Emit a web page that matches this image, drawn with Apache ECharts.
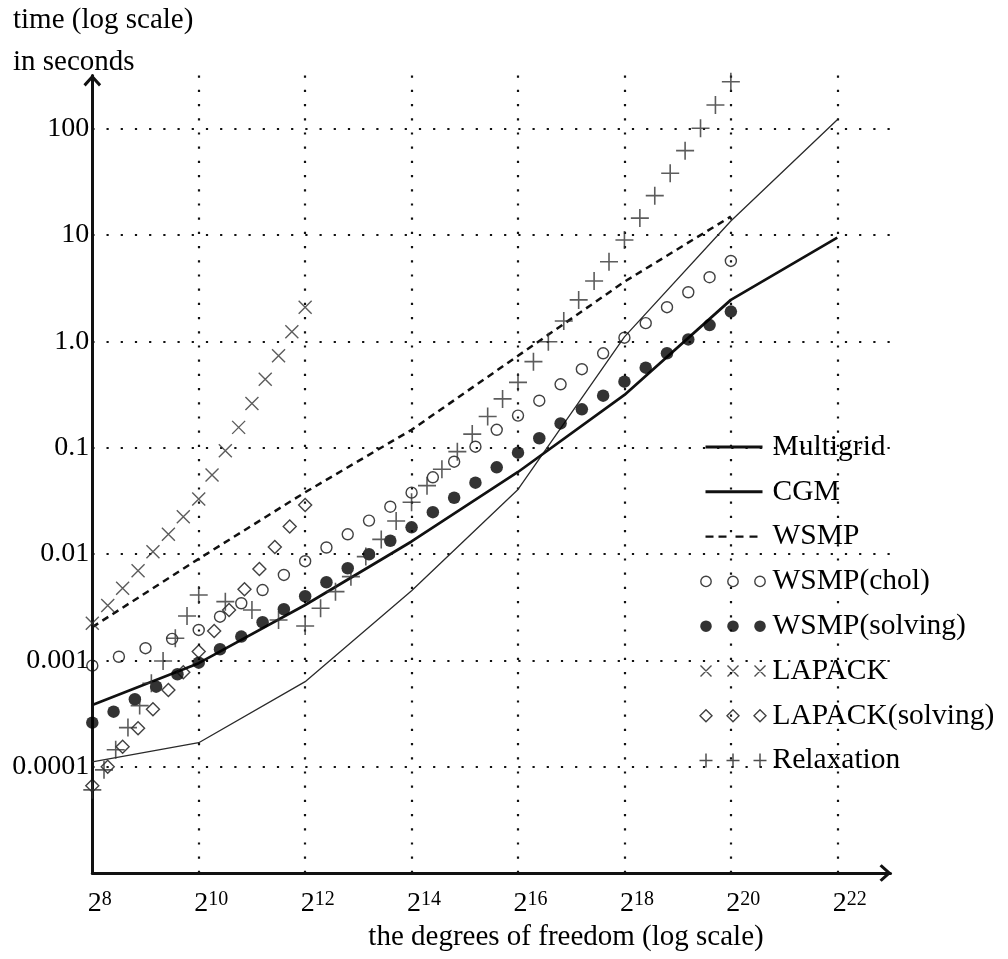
<!DOCTYPE html>
<html>
<head>
<meta charset="utf-8">
<script src="https://cdn.jsdelivr.net/npm/echarts@6/dist/echarts.min.js"></script>
<style>
  html, body { margin: 0; padding: 0; background: #ffffff; }
  #chart { width: 1008px; height: 959px; }
</style>
</head>
<body>
<div id="chart"></div>
<script>
// Degrees of freedom are stored as exponents of 2; times are in seconds.
const xTickExps = [8, 10, 12, 14, 16, 18, 20, 22];
const yTickExps = [-4, -3, -2, -1, 0, 1, 2];
const yTickLabels = ['0.0001', '0.001', '0.01', '0.1', '1.0', '10', '100'];

const multigridDof = [8, 10, 12, 14, 16, 18, 20, 22];
const multigridTime = [1.11e-4, 1.68e-4, 6.3e-4, 4.5e-3, 0.0404, 1.1, 13.5, 121];

const cgmDof = [8, 10, 12, 14, 16, 18, 20, 22];
const cgmTime = [3.8e-4, 9.4e-4, 3.31e-3, 1.31e-2, 0.059, 0.313, 2.45, 9.42];

const wsmpDof = [8, 10, 12, 14, 16, 18, 20];
const wsmpTime = [2.05e-3, 9.0e-3, 0.038, 0.147, 0.73, 3.63, 14.9];

const cholDof = [8, 8.5, 9, 9.5, 10, 10.4, 10.8, 11.2, 11.6, 12, 12.4, 12.8, 13.2, 13.6, 14,
  14.4, 14.8, 15.2, 15.6, 16, 16.4, 16.8, 17.2, 17.6, 18, 18.4, 18.8, 19.2, 19.6, 20];
const cholTime = [8.91e-4, 1.08e-3, 1.30e-3, 1.59e-3, 1.93e-3, 2.57e-3, 3.44e-3, 4.58e-3, 6.35e-3, 8.55e-3,
  1.15e-2, 1.53e-2, 2.06e-2, 2.78e-2, 3.77e-2, 5.26e-2, 7.37e-2, 0.102, 0.147, 0.200,
  0.276, 0.394, 0.546, 0.771, 1.08, 1.48, 2.09, 2.89, 4.0, 5.69];

const solvingDof = [8, 8.4, 8.8, 9.2, 9.6, 10, 10.4, 10.8, 11.2, 11.6, 12, 12.4, 12.8, 13.2, 13.6, 14,
  14.4, 14.8, 15.2, 15.6, 16, 16.4, 16.8, 17.2, 17.6, 18, 18.4, 18.8, 19.2, 19.6, 20];
const solvingTime = [2.59e-4, 3.29e-4, 4.30e-4, 5.65e-4, 7.39e-4, 9.50e-4, 1.27e-3, 1.67e-3, 2.28e-3, 3.02e-3,
  4.0e-3, 5.42e-3, 7.34e-3, 9.94e-3, 1.33e-2, 1.78e-2, 2.47e-2, 3.38e-2, 4.68e-2, 6.53e-2,
  8.97e-2, 0.1225, 0.169, 0.229, 0.308, 0.417, 0.565, 0.771, 1.04, 1.42, 1.90];

const lapackDof = [8, 8.29, 8.57, 8.86, 9.14, 9.43, 9.71, 10, 10.25, 10.5, 10.75, 11, 11.25, 11.5, 11.75, 12];
const lapackTime = [2.23e-3, 3.27e-3, 4.76e-3, 6.97e-3, 1.05e-2, 1.53e-2, 2.24e-2, 3.29e-2,
  5.53e-2, 9.35e-2, 0.155, 0.26, 0.44, 0.73, 1.23, 2.09];

const lapackSolvingDof = [8, 8.29, 8.57, 8.86, 9.14, 9.43, 9.71, 10, 10.29, 10.57, 10.86, 11.14, 11.43, 11.71, 12];
const lapackSolvingTime = [6.63e-5, 1.0e-4, 1.54e-4, 2.30e-4, 3.47e-4, 5.26e-4, 7.72e-4, 1.21e-3,
  1.89e-3, 2.97e-3, 4.65e-3, 7.23e-3, 1.16e-2, 1.81e-2, 2.89e-2];

const relaxationDof = [8, 8.22, 8.44, 8.67, 8.89, 9.11, 9.33, 9.56, 9.78, 10,
  10.5, 11, 11.5,
  12, 12.29, 12.57, 12.86, 13.14, 13.43, 13.71, 14, 14.29, 14.57, 14.86, 15.14, 15.43, 15.71, 16,
  16.29, 16.57, 16.86, 17.14, 17.43, 17.71, 18, 18.29, 18.57, 18.86, 19.14, 19.43, 19.71, 20];
const relaxationTime = [6.05e-5, 9.33e-5, 1.44e-4, 2.33e-4, 3.75e-4, 6.09e-4, 9.86e-4, 1.61e-3, 2.61e-3, 4.11e-3,
  3.56e-3, 2.97e-3, 2.39e-3,
  2.10e-3, 3.09e-3, 4.42e-3, 6.12e-3, 9.44e-3, 1.37e-2, 2.04e-2, 3.06e-2, 4.39e-2, 6.26e-2, 9.16e-2,
  0.134, 0.196, 0.287, 0.411, 0.643, 0.991, 1.55, 2.45, 3.69, 5.60, 8.97, 14.4, 23.4, 38.0, 62.0,
  100.7, 166.7, 276];

// dotted grid positions (log units)
const xGridExps = [10, 12, 14, 16, 18, 20, 22];
const yGridExps = [-4, -3, -2, -1, 0, 1, 2];

const FONT = '"Liberation Serif", "Times New Roman", serif';
const INK = '#000000';

function pairs(dof, time) {
  return dof.map((d, i) => [d, Math.log10(time[i])]);
}

// open chevron used as axis arrow head (points up before rotation)
const ARROW = 'path://M0,10L9,0L18,10L15.8,12.2L9,4.6L2.2,12.2Z';

// legend icons, drawn in a 68 x 16 box (the leading moves pin the box)
const BOX = 'M0,0M68,16';
const cxs = [6.5, 33.5, 60.5];
function circles(r) {
  return cxs.map(c => `M${c - r},8a${r},${r} 0 1,0 ${2 * r},0a${r},${r} 0 1,0 ${-2 * r},0Z`).join('');
}
const ICON_LINE = 'path://' + BOX + 'M6,6.5H63V9.5H6Z';
const ICON_DASH = 'path://' + BOX + 'M6,6.8H14V9.2H6ZM19,6.8H27V9.2H19ZM36,6.8H44V9.2H36ZM50,6.8H58V9.2H50Z';
const ICON_OPEN = 'path://' + BOX + circles(5.2);
const ICON_DOT = 'path://' + BOX + circles(5.8);
const ICON_CROSS = 'path://' + BOX + cxs.map(c => `M${c - 5.5},2.5L${c + 5.5},13.5M${c + 5.5},2.5L${c - 5.5},13.5`).join('');
const ICON_DIAMOND = 'path://' + BOX + cxs.map(c => `M${c},2L${c + 6},8L${c},14L${c - 6},8Z`).join('');
const ICON_PLUS = 'path://' + BOX + cxs.map(c => `M${c},1V15M${c - 6.5},8H${c + 6.5}`).join('');

const chart = echarts.init(document.getElementById('chart'), null, { renderer: 'canvas' });

const option = {
  backgroundColor: '#ffffff',
  animation: false,
  grid: {
    left: 92.3, right: 117.5, top: 75.4, bottom: 86,
    containLabel: false, outerBoundsMode: 'none'
  },
  xAxis: {
    type: 'value', min: 8, max: 23, interval: 2,
    splitLine: { show: false },
    axisTick: { show: false },
    axisLine: {
      onZero: false,
      lineStyle: { color: '#111', width: 3 },
      symbol: ['none', ARROW], symbolSize: [18, 12], symbolOffset: [0, -5]
    },
    axisLabel: {
      showMinLabel: true, showMaxLabel: false, margin: 17,
      formatter: v => {
        if (xTickExps.indexOf(v) < 0) return '';
        const e = String(v);
        return '{g' + e.length + '| }{b|2}{s|' + e + '}';
      },
      rich: {
        b: { fontFamily: FONT, fontSize: 28, color: INK, lineHeight: 28 },
        s: { fontFamily: FONT, fontSize: 20, color: INK, lineHeight: 16, verticalAlign: 'top' },
        g1: { width: 15, fontSize: 10 },
        g2: { width: 25, fontSize: 10 }
      }
    }
  },
  yAxis: {
    type: 'value', min: -5, max: 2.5, interval: 1,
    splitLine: { show: false },
    axisTick: { show: false },
    axisLine: {
      onZero: false,
      lineStyle: { color: '#111', width: 3 },
      symbol: ['none', ARROW], symbolSize: [18, 12], symbolOffset: [0, -5]
    },
    axisLabel: {
      showMinLabel: false, showMaxLabel: false, margin: 3,
      fontFamily: FONT, fontSize: 28, color: INK,
      formatter: v => {
        const i = yTickExps.indexOf(v);
        return i < 0 ? '' : yTickLabels[i];
      }
    }
  },
  legend: {
    orient: 'vertical', left: 697, top: 432, padding: 0,
    itemWidth: 68, itemHeight: 16, itemGap: 14.8,
    selectedMode: false,
    textStyle: { fontFamily: FONT, fontSize: 29.5, color: INK },
    data: [
      { name: 'Multigrid', icon: ICON_LINE, itemStyle: { color: '#111', borderWidth: 0 } },
      { name: 'CGM', icon: ICON_LINE, itemStyle: { color: '#111', borderWidth: 0 } },
      { name: 'WSMP', icon: ICON_DASH, itemStyle: { color: '#111', borderWidth: 0 } },
      { name: 'WSMP(chol)', icon: ICON_OPEN, itemStyle: { color: 'none', borderColor: '#111', borderWidth: 1.4 } },
      { name: 'WSMP(solving)', icon: ICON_DOT, itemStyle: { color: '#000', borderWidth: 0 } },
      { name: 'LAPACK', icon: ICON_CROSS, itemStyle: { color: 'none', borderColor: '#222', borderWidth: 1.4 } },
      { name: 'LAPACK(solving)', icon: ICON_DIAMOND, itemStyle: { color: 'none', borderColor: '#111', borderWidth: 1.4 } },
      { name: 'Relaxation', icon: ICON_PLUS, itemStyle: { color: 'none', borderColor: '#222', borderWidth: 1.5 } }
    ]
  },
  graphic: [
    { type: 'text', x: 13, y: 20, silent: true,
      style: { text: 'time (log scale)', font: '29px ' + FONT, fill: INK, align: 'left', verticalAlign: 'middle' } },
    { type: 'text', x: 13, y: 62, silent: true,
      style: { text: 'in seconds', font: '29px ' + FONT, fill: INK, align: 'left', verticalAlign: 'middle' } },
    { type: 'text', x: 566, y: 937, silent: true,
      style: { text: 'the degrees of freedom (log scale)', font: '29px ' + FONT, fill: INK, align: 'center', verticalAlign: 'middle' } }
  ],
  series: [
    {
      name: 'grid', type: 'line', data: [], silent: true, z: 1,
      markLine: {
        silent: true, z: 1, symbol: ['none', 'none'], label: { show: false },
        emphasis: { disabled: true },
        lineStyle: { color: '#111', width: 2.2, type: [2.2, 12] },
        data: xGridExps.map(v => ({ xAxis: v })).concat(yGridExps.map(v => ({ yAxis: v })))
      }
    },
    {
      name: 'Multigrid', type: 'line', z: 3, symbol: 'none', silent: true,
      lineStyle: { color: '#2a2a2a', width: 1.3 },
      data: pairs(multigridDof, multigridTime)
    },
    {
      name: 'CGM', type: 'line', z: 3, symbol: 'none', silent: true,
      lineStyle: { color: '#111', width: 2.7 },
      data: pairs(cgmDof, cgmTime)
    },
    {
      name: 'WSMP', type: 'line', z: 3, symbol: 'none', silent: true,
      lineStyle: { color: '#111', width: 2.5, type: [7, 5] },
      data: pairs(wsmpDof, wsmpTime)
    },
    {
      name: 'WSMP(chol)', type: 'scatter', z: 4, silent: true,
      symbol: 'circle', symbolSize: 11,
      itemStyle: { color: 'none', borderColor: '#111', borderWidth: 1.4 },
      data: pairs(cholDof, cholTime)
    },
    {
      name: 'WSMP(solving)', type: 'scatter', z: 4, silent: true,
      symbol: 'circle', symbolSize: 12.5,
      itemStyle: { color: '#000', borderWidth: 0 },
      data: pairs(solvingDof, solvingTime)
    },
    {
      name: 'LAPACK', type: 'scatter', z: 4, silent: true,
      symbol: 'path://M0,0L10,10M10,0L0,10', symbolSize: 13,
      itemStyle: { color: 'none', borderColor: '#333', borderWidth: 1.4 },
      data: pairs(lapackDof, lapackTime)
    },
    {
      name: 'LAPACK(solving)', type: 'scatter', z: 4, silent: true,
      symbol: 'diamond', symbolSize: 13,
      itemStyle: { color: 'none', borderColor: '#111', borderWidth: 1.4 },
      data: pairs(lapackSolvingDof, lapackSolvingTime)
    },
    {
      name: 'Relaxation', type: 'scatter', z: 4, silent: true,
      symbol: 'path://M5,0V10M0,5H10', symbolSize: 18,
      itemStyle: { color: 'none', borderColor: '#333', borderWidth: 1.6 },
      data: pairs(relaxationDof, relaxationTime)
    }
  ]
};

chart.setOption(option);
</script>
</body>
</html>
